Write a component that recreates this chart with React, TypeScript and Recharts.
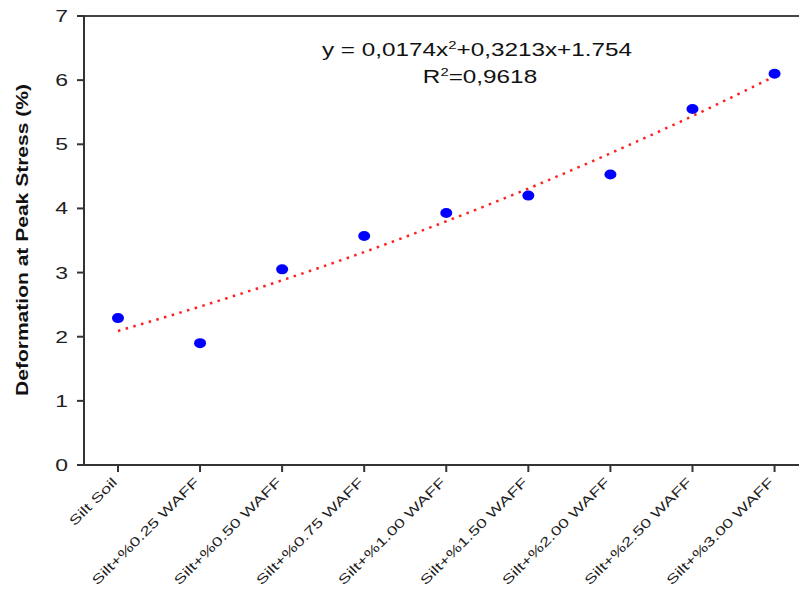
import React from "react";
import {
    ComposedChart,
    Line,
    Scatter,
    XAxis,
    YAxis,
    ReferenceLine
} from "recharts";

const categories = [
    "Silt Soil",
    "Silt+%0.25 WAFF",
    "Silt+%0.50 WAFF",
    "Silt+%0.75 WAFF",
    "Silt+%1.00 WAFF",
    "Silt+%1.50 WAFF",
    "Silt+%2.00 WAFF",
    "Silt+%2.50 WAFF",
    "Silt+%3.00 WAFF"
];

const deformation = [2.29, 1.9, 3.05, 3.57, 3.93, 4.2, 4.53, 5.55, 6.1];

// trendline (matches the shown equation)
const trend = [2.09, 2.47, 2.88, 3.32, 3.8, 4.31, 4.86, 5.44, 6.06];

const yTicks = [0, 1, 2, 3, 4, 5, 6, 7];

const rows = categories.map((name, i) => ({
    x: i + 1,
    name,
    value: deformation[i],
    trend: trend[i]
}));

const FONT = "Liberation Sans, Arial, sans-serif";

// the source picture is stretched sideways, so the text is too
const STRETCH = 1.35;

function RotatedTick({x, y, payload}: any) {
    const label = categories[payload.value - 1] ?? "";
    return (
        <g transform={`translate(${x},${y + 9})`}>
            <text
                textAnchor="end"
                transform={`rotate(-45) scale(1.42,1)`}
                fontFamily={FONT}
                fontSize={13}
                fill="#222"
            >
                {label}
            </text>
        </g>
    );
}

function YTick({x, y, payload}: any) {
    return (
        <g transform={`translate(${x},${y + 6})`}>
            <text textAnchor="end" transform={`scale(${STRETCH},1)`} fontFamily={FONT} fontSize={17} fill="#222">
                {payload.value}
            </text>
        </g>
    );
}

export default function App() {
    return (
        <div style={{position: "absolute", left: 0, top: 0, width: 799, height: 593, overflow: "hidden"}}>
            <ComposedChart
                width={800}
                height={593}
                data={rows}
                margin={{top: 16, right: 0, bottom: 0, left: 0}}
            >
                <XAxis
                    type="number"
                    dataKey="x"
                    domain={[0.586, 9.31]}
                    ticks={[1, 2, 3, 4, 5, 6, 7, 8, 9]}
                    tick={<RotatedTick />}
                    tickSize={7}
                    height={128}
                    allowDataOverflow
                    axisLine={{stroke: "#333", strokeWidth: 2}}
                    tickLine={{stroke: "#333", strokeWidth: 2}}
                    interval={0}
                />
                <YAxis
                    type="number"
                    domain={[0, 7]}
                    ticks={yTicks}
                    width={84}
                    tickSize={7}
                    tickMargin={9}
                    axisLine={{stroke: "#333", strokeWidth: 2}}
                    tickLine={{stroke: "#333", strokeWidth: 2}}
                    tick={<YTick />}
                />
                <ReferenceLine y={7} stroke="#444" strokeWidth={2} />
                <Line
                    type="monotone"
                    dataKey="trend"
                    stroke="#ff2020"
                    strokeWidth={2.5}
                    strokeDasharray="2.5 5.5"
                    dot={false}
                    activeDot={false}
                    isAnimationActive={false}
                />
                <Scatter
                    dataKey="value"
                    fill="#0000ff"
                    shape={(p: any) => <ellipse cx={p.cx} cy={p.cy} rx={6} ry={5} fill="#0000ff" />}
                    isAnimationActive={false}
                />
                <text
                    x={0}
                    y={0}
                    transform="translate(28,240) rotate(-90)"
                    textAnchor="middle"
                    fontFamily={FONT}
                    fontSize={17}
                    fontWeight="bold"
                    fill="#111"
                    textLength={312}
                    lengthAdjust="spacingAndGlyphs"
                >
                    Deformation at Peak Stress (%)
                </text>
                <g transform={`translate(477,56) scale(${STRETCH},1)`}>
                    <text x={0} y={0} textAnchor="middle" fontFamily={FONT} fontSize={18} fill="#111">
                        y = 0,0174x
                        <tspan dy={-7} fontSize={11}>2</tspan>
                        <tspan dy={7}>+0,3213x+1.754</tspan>
                    </text>
                </g>
                <g transform={`translate(480,83) scale(${STRETCH},1)`}>
                    <text x={0} y={0} textAnchor="middle" fontFamily={FONT} fontSize={18} fill="#111">
                        R
                        <tspan dy={-7} fontSize={11}>2</tspan>
                        <tspan dy={7}>=0,9618</tspan>
                    </text>
                </g>
            </ComposedChart>
        </div>
    );
}
